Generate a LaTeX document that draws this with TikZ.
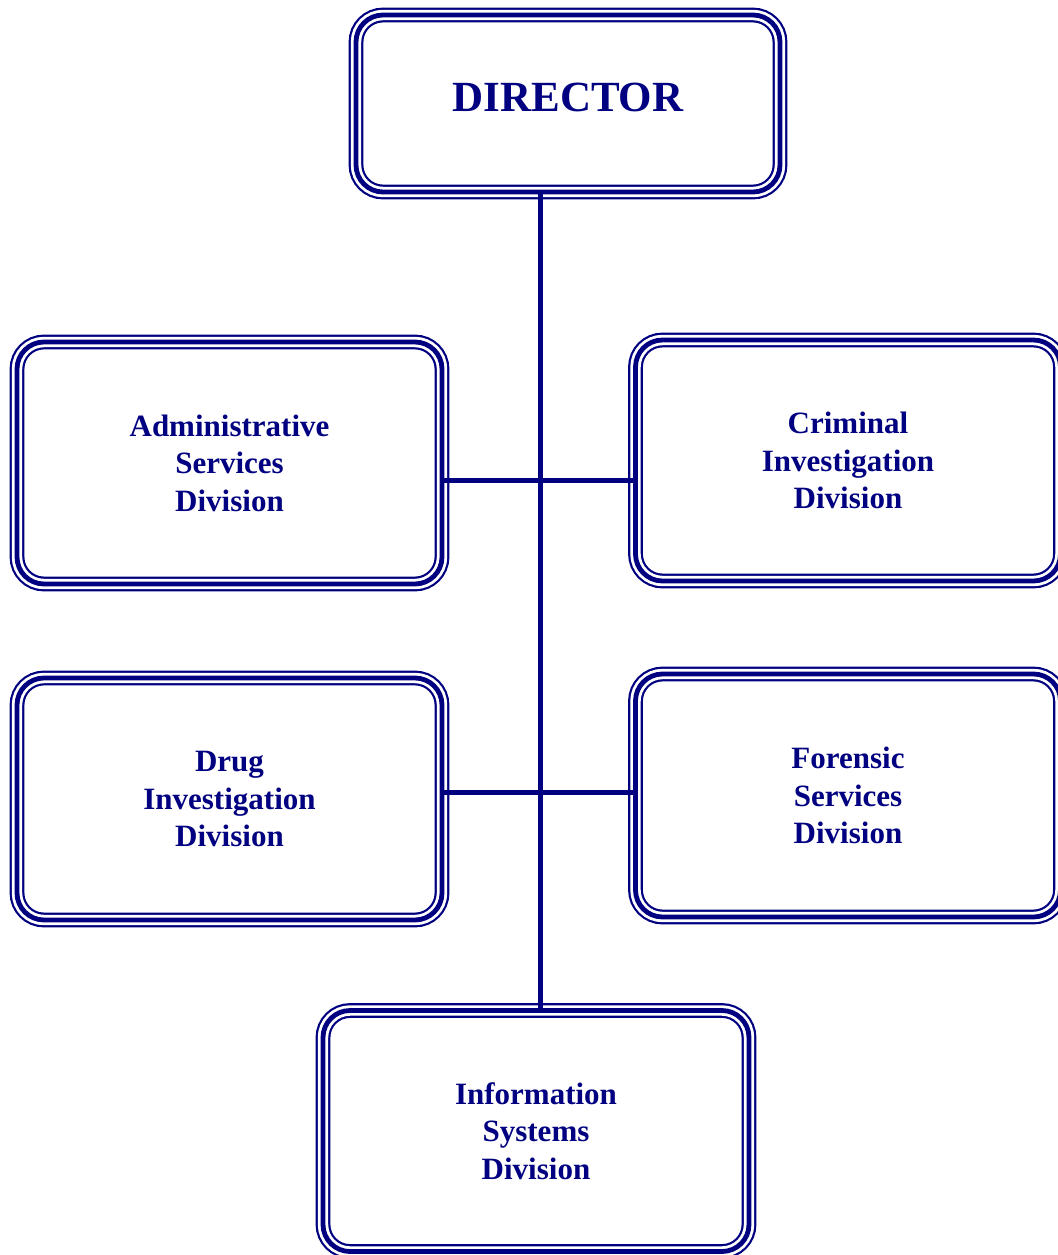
\documentclass[tikz,border=0pt]{standalone}
\usepackage{fontspec}
\setmainfont{Liberation Serif}
\definecolor{navy}{RGB}{0,0,128}
\begin{document}
\begin{tikzpicture}[x=1pt,y=1pt,
  orgbox/.style={draw=navy, line width=2.2pt, double=white, double distance=10.4pt,
    rounded corners=27pt, inner sep=0pt, outer sep=0pt,
    minimum width=425pt, minimum height=242pt, align=center, text=navy,
    font=\fontsize{31}{37.5}\selectfont\bfseries},
  midline/.style={draw=navy, line width=4.8pt, rounded corners=27pt},
  link/.style={draw=navy, line width=5pt}]
\useasboundingbox (0,0) rectangle (1057,-1255);
\node[orgbox, minimum width=424pt, minimum height=177pt,
  font=\fontsize{43}{50}\selectfont\bfseries] (dir) at (568,-103.5) {\raisebox{12pt}{DIRECTOR}};
\node[orgbox] (adm) at (229.5,-463) {Administrative\\Services\\Division};
\node[orgbox, minimum height=241pt] (cri) at (848,-460.5) {Criminal\\Investigation\\Division};
\node[orgbox] (drg) at (229.5,-799) {Drug\\Investigation\\Division};
\node[orgbox, minimum height=243pt] (fsd) at (848,-795.5) {Forensic\\Services\\Division};
\node[orgbox, minimum width=426pt, minimum height=241pt] (inf) at (536,-1131) {Information\\Systems\\Division};
\foreach \n in {dir,adm,cri,drg,fsd,inf}
  \draw[midline] (\n.north west) rectangle (\n.south east);
\coordinate (trunk) at (540.5,0);
\coordinate (row1) at (0,-480);
\coordinate (row2) at (0,-792);
\draw[link] (dir.south -| trunk) -- (inf.north -| trunk);
\draw[link] (adm.east |- row1) -- (cri.west |- row1);
\draw[link] (drg.east |- row2) -- (fsd.west |- row2);
\end{tikzpicture}
\end{document}
